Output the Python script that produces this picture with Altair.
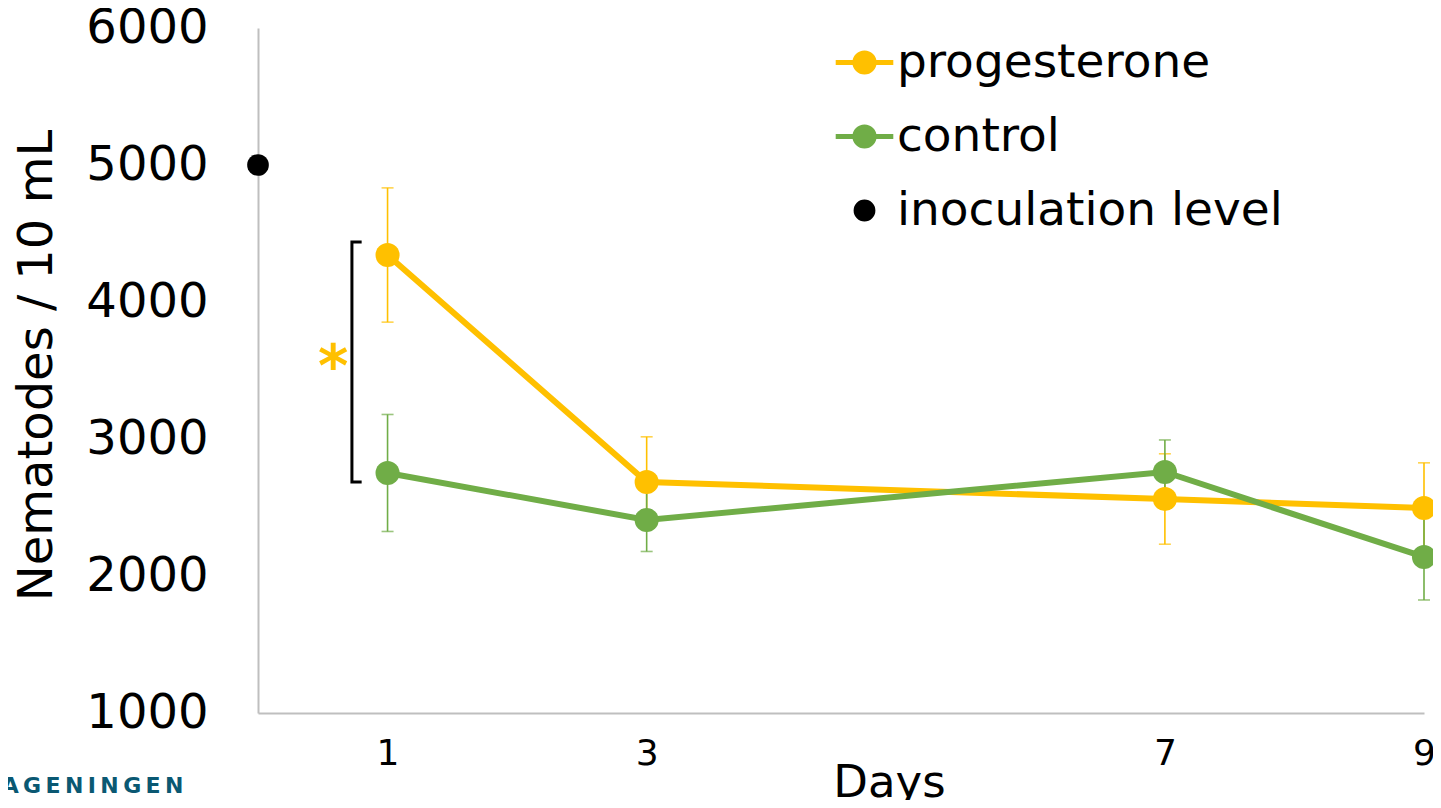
import altair as alt
import pandas as pd

# ---- data ----
days = [1, 3, 7, 9]
prog_mean = [4343, 2686, 2562, 2496]
prog_err = [490, 330, 330, 330]
ctrl_mean = [2752, 2409, 2759, 2139]
ctrl_err = [427, 230, 234, 314]
inoc_day = [0]
inoc_level = [5000]

series_names = ["progesterone", "control", "inoculation level"]
series_colors = ["#FFC000", "#70AD47", "#000000"]

# significance bracket (day 1) and asterisk
bracket_x = [0.80, 0.725, 0.725, 0.80]
bracket_y = [4438, 4438, 2686, 2686]
star_x = [0.58]
star_y = [3577]

FONT = "DejaVu Sans"

x_scale = alt.Scale(domain=[0, 9], nice=False, zero=False)
y_scale = alt.Scale(domain=[1000, 6000], nice=False, zero=False)

def series_df(mean, err, name):
    return pd.DataFrame({
        "day": days,
        "mean": mean,
        "lo": [m - e for m, e in zip(mean, err)],
        "hi": [m + e for m, e in zip(mean, err)],
        "series": name,
    })

prog = series_df(prog_mean, prog_err, "progesterone")
ctrl = series_df(ctrl_mean, ctrl_err, "control")

x_axis = alt.Axis(values=days, format="d", title="Days", grid=False, ticks=False,
                  domainColor="#BFBFBF", domainWidth=2,
                  labelFont=FONT, labelFontSize=36, labelColor="#000000",
                  labelPadding=23, labelFlush=False,
                  titleFont=FONT, titleFontSize=45, titleFontWeight="normal",
                  titleColor="#000000", titleX=631, titleY=83,
                  titleBaseline="alphabetic")
y_axis = alt.Axis(values=[1000, 2000, 3000, 4000, 5000, 6000], format="d",
                  title="Nematodes / 10 mL", grid=False, ticks=False,
                  domainColor="#BFBFBF", domainWidth=2,
                  labelFont=FONT, labelFontSize=48, labelColor="#000000",
                  labelPadding=50, labelFlush=False,
                  titleFont=FONT, titleFontSize=48, titleFontWeight="normal",
                  titleColor="#000000", titleX=-207, titleY=337,
                  titleBaseline="alphabetic")

layers = []
# error bars
for df, col in [(prog, series_colors[0]), (ctrl, series_colors[1])]:
    base = alt.Chart(df)
    layers.append(base.mark_rule(color=col, strokeWidth=1.6).encode(
        x=alt.X("day:Q", scale=x_scale, axis=x_axis),
        y=alt.Y("lo:Q", scale=y_scale, axis=y_axis),
        y2="hi:Q"))
    for f in ["lo", "hi"]:
        layers.append(base.mark_tick(color=col, thickness=1.6, size=12,
                                     orient="horizontal").encode(
            x=alt.X("day:Q", scale=x_scale),
            y=alt.Y(f + ":Q", scale=y_scale)))
# lines
for df, col in [(prog, series_colors[0]), (ctrl, series_colors[1])]:
    layers.append(alt.Chart(df).mark_line(color=col, strokeWidth=6).encode(
        x=alt.X("day:Q", scale=x_scale),
        y=alt.Y("mean:Q", scale=y_scale)))
# points
for df, col in [(prog, series_colors[0]), (ctrl, series_colors[1])]:
    layers.append(alt.Chart(df).mark_circle(color=col, size=580, opacity=1).encode(
        x=alt.X("day:Q", scale=x_scale),
        y=alt.Y("mean:Q", scale=y_scale)))

inoc = pd.DataFrame({"day": inoc_day, "mean": inoc_level})
layers.append(alt.Chart(inoc).mark_circle(color="#000000", size=470, opacity=1).encode(
    x=alt.X("day:Q", scale=x_scale),
    y=alt.Y("mean:Q", scale=y_scale)))

# bracket + asterisk
br = pd.DataFrame({"x": bracket_x, "y": bracket_y, "o": list(range(len(bracket_x)))})
layers.append(alt.Chart(br).mark_line(color="#000000", strokeWidth=3).encode(
    x=alt.X("x:Q", scale=x_scale),
    y=alt.Y("y:Q", scale=y_scale),
    order="o:O"))
st = pd.DataFrame({"x": star_x, "y": star_y, "t": ["*"]})
layers.append(alt.Chart(st).mark_text(color="#FFC000", font=FONT, fontSize=58,
                                      fontWeight="bold", baseline="middle",
                                      align="center", dy=9).encode(
    x=alt.X("x:Q", scale=x_scale),
    y=alt.Y("y:Q", scale=y_scale),
    text="t:N"))

# legend layer (invisible marks, visible legend)
line_dot = "M-2.4,0L2.4,0M-0.8,0A0.8,0.8,0,1,1,0.8,0A0.8,0.8,0,1,1,-0.8,0Z"
dot = "M-0.7,0A0.7,0.7,0,1,1,0.7,0A0.7,0.7,0,1,1,-0.7,0Z"
leg_df = pd.DataFrame({"series": series_names, "day": [0, 0, 0], "mean": [5000] * 3})
leg = alt.Legend(title=None, orient="none", legendX=583, legendY=11,
                 labelFont=FONT, labelFontSize=47, labelColor="#000000",
                 labelLimit=0,
                 symbolSize=576, symbolStrokeWidth=5, labelOffset=9,
                 rowPadding=26, padding=0, symbolOpacity=1)
layers.append(alt.Chart(leg_df).mark_point(filled=True, opacity=0, strokeWidth=5).encode(
    x=alt.X("day:Q", scale=x_scale),
    y=alt.Y("mean:Q", scale=y_scale),
    fill=alt.Fill("series:N", scale=alt.Scale(domain=series_names, range=series_colors), legend=leg),
    stroke=alt.Stroke("series:N", scale=alt.Scale(domain=series_names, range=series_colors), legend=leg),
    shape=alt.Shape("series:N", scale=alt.Scale(domain=series_names, range=[line_dot, line_dot, dot]), legend=leg),
))

# logo text at bottom left
logo = pd.DataFrame({"t": ["W\u2009A\u2009G\u2009E\u2009N\u2009I\u2009N\u2009G\u2009E\u2009N"]})
layers.append(alt.Chart(logo).mark_text(color="#0A5872", font=FONT, fontSize=22,
                                        fontWeight="bold",
                                        align="left", baseline="alphabetic").encode(
    x=alt.value(-285), y=alt.value(765), text="t:N"))

chart = alt.layer(*layers).properties(
    width=1166, height=685,
    padding={"left": 250, "top": 20, "right": 9, "bottom": 87},
    autosize=alt.AutoSizeParams(type="none"),
    background="white",
).configure_view(stroke=None, clip=False)

chart.save("out.html", embed_options={"renderer": "svg", "actions": False})
